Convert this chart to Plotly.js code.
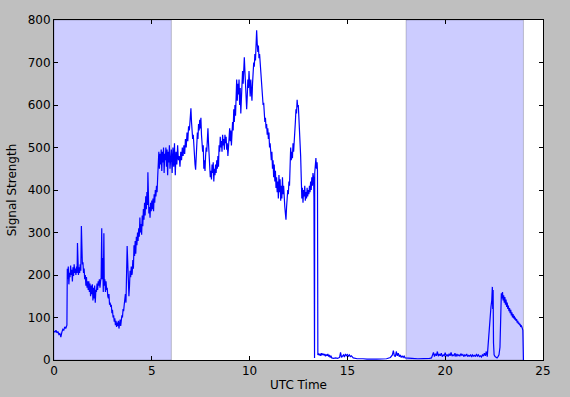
<!DOCTYPE html>
<html>
<head>
<meta charset="utf-8">
<script src="https://cdn.plot.ly/plotly-3.0.1.min.js"></script>
<style>html,body{margin:0;padding:0;background:#bfbfbf;}#chart{width:570px;height:397px;}</style>
</head>
<body>
<div id="chart"></div>
<script>
// UTC time (hours) of each sample
const hours = [
0,0.05,0.1,0.15,0.2,0.25,0.3,0.35,0.4,0.45,0.5,0.55,0.6,0.63,0.66,
0.68,0.7,0.73,0.76,0.79,0.82,0.85,0.88,0.91,0.94,0.97,1.0,1.03,1.06,1.09,1.12,1.15,1.18,1.2,1.22,1.25,1.28,1.31,1.34,1.37,1.4,1.42,1.45,1.48,
1.51,1.54,1.57,1.6,1.63,1.66,1.69,1.72,1.75,1.78,1.81,1.84,1.87,1.9,1.93,1.96,1.99,2.02,2.05,2.08,2.11,2.14,2.17,2.2,2.23,2.26,2.29,2.32,2.35,2.38,2.41,2.44,2.46,2.49,2.52,2.55,2.57,
2.6,2.63,2.66,2.69,2.72,2.75,2.78,2.81,2.84,2.87,2.9,2.93,2.96,2.99,3.02,3.05,3.08,3.11,3.14,3.17,3.2,3.23,3.26,3.29,3.32,3.35,3.38,3.41,3.44,3.47,3.5,3.53,3.56,
3.59,3.62,3.65,3.68,3.71,3.74,3.77,3.8,3.83,3.86,3.89,3.92,3.95,3.98,
4.0,4.03,4.06,4.09,4.12,4.15,4.18,4.21,4.24,4.27,4.3,4.33,4.36,4.39,4.42,4.45,4.48,4.51,4.54,4.57,4.6,4.63,4.66,4.69,4.72,4.75,4.78,4.8,4.82,
4.85,4.88,4.91,4.94,4.97,5.0,5.03,5.06,5.09,5.12,5.15,5.18,5.21,5.24,5.27,5.3,5.33,5.36,5.39,5.42,5.45,5.48,5.51,5.54,5.57,5.6,5.63,5.66,5.69,5.72,5.75,5.78,5.81,5.84,5.87,5.9,5.93,5.96,
6.0,6.04,6.08,6.12,6.16,6.2,6.24,6.28,6.32,6.36,6.4,6.44,6.48,6.52,6.56,6.6,6.64,6.68,6.72,6.76,6.8,6.84,6.88,6.92,6.96,7.0,7.03,7.06,7.09,7.12,7.15,7.18,7.21,7.24,7.27,7.3,7.33,7.36,7.39,7.42,7.45,7.48,7.51,7.54,7.57,7.6,7.63,7.66,7.69,7.72,7.75,7.78,7.81,7.84,7.87,7.9,7.93,7.96,7.99,
8.02,8.05,8.08,8.11,8.14,8.17,8.2,8.23,8.26,8.29,8.32,8.35,8.38,8.41,8.44,8.47,8.5,8.53,8.56,8.59,8.62,8.65,8.68,8.71,8.74,8.77,8.8,8.83,8.86,8.89,8.92,8.95,8.98,
9.01,9.04,9.07,9.1,9.13,9.16,9.19,9.22,9.25,9.28,9.31,9.34,9.37,9.4,9.43,9.46,9.49,9.52,9.55,9.58,9.61,9.64,9.67,9.7,9.73,9.76,9.79,9.82,9.85,9.88,9.91,9.94,9.97,
10.0,10.03,10.06,10.09,10.12,10.15,10.18,10.21,10.24,10.27,10.3,10.33,10.36,10.39,10.42,10.45,10.48,10.51,10.54,10.57,10.6,10.63,10.66,10.69,10.72,10.75,10.78,10.81,10.84,10.87,10.9,10.93,10.96,10.99,
11.02,11.05,11.08,11.11,11.14,11.17,11.2,11.23,11.26,11.29,11.32,11.35,11.38,11.41,11.44,11.47,11.5,11.53,11.56,11.59,11.62,11.65,11.68,11.71,11.74,11.77,11.8,11.83,11.86,11.89,11.92,11.95,11.98,
12.01,12.04,12.07,12.1,12.13,12.16,12.19,12.22,12.25,12.28,12.31,12.34,12.37,12.4,12.43,12.46,12.49,12.52,12.55,12.58,12.61,12.64,12.67,12.7,12.73,12.76,12.79,12.82,12.85,12.88,12.91,12.94,12.97,
13.0,13.03,13.06,13.09,13.12,13.15,13.18,13.21,13.24,13.27,13.29,13.3,13.32,13.33,13.36,13.39,13.42,13.45,13.47,13.49,
13.52,13.56,13.6,13.64,13.68,13.72,13.76,13.8,13.84,13.88,13.92,13.96,14.0,14.04,14.08,14.12,14.16,14.2,14.3,14.4,14.5,14.6,14.65,14.7,14.75,14.8,14.85,14.9,14.95,15.0,15.05,15.1,15.15,15.2,15.3,15.5,15.8,16.0,16.5,17.0,
17.2,17.3,17.35,17.4,17.45,17.5,17.55,17.6,17.65,17.7,17.75,17.8,17.85,17.9,17.95,18.0,18.3,18.6,19.0,19.2,19.3,
19.35,19.4,19.45,19.5,19.55,19.6,19.65,19.7,19.75,19.8,19.85,19.9,19.95,20.0,20.05,20.1,20.15,20.2,20.25,20.3,20.35,20.4,20.45,20.5,20.55,20.6,20.65,20.7,20.75,20.8,20.85,20.9,20.95,
21.0,21.05,21.1,21.15,21.2,21.25,21.3,21.35,21.4,21.45,21.5,21.55,21.6,21.65,21.7,21.75,21.8,21.85,21.9,21.95,22.0,22.05,22.1,22.15,
22.2,22.25,22.3,22.34,22.38,22.41,22.43,22.45,22.47,22.5,22.55,22.6,22.65,22.7,22.75,22.8,22.84,22.87,22.9,22.93,22.96,22.99,
23.02,23.05,23.08,23.11,23.14,23.17,23.2,23.23,23.26,23.29,23.32,23.35,23.38,23.41,23.44,23.47,23.5,23.53,23.56,23.59,23.62,23.65,23.68,23.71,23.74,23.77,23.8,23.83,23.86,23.9,23.94,23.97,24.0
];

// Signal strength of each sample
const signal = [
68,66,70,64,67,60,62,54,65,72,70,78,74,80,82,
215,190,220,178,205,195,222,200,212,185,218,198,225,205,215,200,220,205,275,210,200,218,205,225,210,315,240,225,230,
205,215,190,200,175,195,170,185,165,185,160,180,150,175,155,178,140,170,145,175,135,165,160,180,165,185,175,190,170,185,195,310,190,240,160,298,175,
190,160,185,165,170,150,145,155,130,135,125,130,110,118,100,105,90,98,82,92,78,88,80,92,74,85,95,80,98,105,100,120,115,
130,140,155,135,200,268,230,180,150,175,210,195,220,200,
205,235,215,270,245,280,250,290,270,300,280,310,290,335,300,320,295,340,315,355,330,370,340,385,355,395,365,442,370,
345,360,335,370,350,375,355,380,350,390,370,400,385,410,395,430,460,490,450,485,460,495,445,490,465,500,440,485,470,500,455,495,435,490,465,505,450,490,
495,440,500,455,510,435,490,460,505,470,480,455,490,470,500,480,505,485,520,500,535,515,550,540,575,592,560,545,520,530,490,475,460,448,480,510,535,520,555,540,565,545,570,530,515,490,505,450,470,445,480,500,490,520,545,510,485,455,430,
445,425,460,440,465,420,450,435,460,440,470,450,480,455,505,490,525,500,515,490,530,505,520,495,530,510,525,495,510,480,500,520,545,
515,540,505,530,560,540,590,560,600,575,630,660,610,650,625,660,600,640,580,620,665,680,650,700,712,680,640,600,590,620,660,640,680,
650,620,660,630,610,650,680,700,690,720,705,740,776,745,725,740,710,720,700,690,670,650,615,600,605,580,560,570,545,555,530,545,520,535,
500,510,480,470,490,450,470,430,460,420,445,405,430,395,420,380,435,395,425,375,410,380,430,390,410,370,360,345,330,360,380,400,390,
420,410,460,500,470,490,475,510,490,530,520,560,590,580,612,595,600,570,560,500,480,430,380,405,370,400,385,410,375,395,380,405,385,
400,390,410,395,420,400,430,410,440,430,380,5,5,440,465,475,450,465,445,12,
15,12,14,10,16,12,15,11,14,9,13,10,14,8,12,6,10,5,4,5,4,6,18,6,8,12,7,14,10,13,9,12,8,10,5,3,3,2,2,3,
6,12,22,10,8,20,10,16,8,12,6,10,6,9,5,5,4,3,3,4,5,
10,18,8,15,10,20,9,14,10,16,8,12,10,17,9,13,8,15,10,18,9,12,10,16,8,14,10,12,9,15,11,13,8,
12,10,14,8,11,9,13,7,12,9,11,8,14,9,12,8,10,7,12,9,16,10,20,8,
45,55,100,125,140,172,120,165,40,12,8,6,5,8,12,30,120,157,145,160,140,152,
135,148,130,142,125,135,120,128,115,122,110,118,105,112,100,108,98,104,95,100,92,96,88,92,85,88,82,85,78,80,75,70,0
];

// Shaded night-time spans (hours)
const spanStarts = [0, 18];
const spanEnds = [6, 24];

const xTicks = [0, 5, 10, 15, 20, 25];
const yTicks = [0, 100, 200, 300, 400, 500, 600, 700, 800];

const shapes = spanStarts.map((s, i) => ({
  type: 'rect', xref: 'x', yref: 'paper',
  x0: s, x1: spanEnds[i], y0: 0, y1: 1,
  fillcolor: 'rgba(0,0,255,0.2)',
  line: {color: 'rgba(0,0,0,0.2)', width: 1},
  layer: 'below'
}));

const trace = {
  x: hours, y: signal, type: 'scatter', mode: 'lines',
  line: {color: '#0000ff', width: 1.2},
  hoverinfo: 'skip'
};

const axisCommon = {
  showgrid: false, zeroline: false,
  showline: true, linecolor: '#000', linewidth: 1, mirror: 'ticks',
  ticks: 'inside', ticklen: 4, tickwidth: 1, tickcolor: '#000',
  tickfont: {family: 'DejaVu Sans', size: 12, color: '#000'}
};

const layout = {
  width: 570, height: 397,
  margin: {l: 54, r: 27, t: 20, b: 37, pad: 0},
  paper_bgcolor: '#bfbfbf', plot_bgcolor: '#ffffff',
  font: {family: 'DejaVu Sans', size: 12, color: '#000'},
  showlegend: false,
  shapes: shapes,
  xaxis: Object.assign({}, axisCommon, {
    range: [0, 25], tickvals: xTicks, ticktext: xTicks.map(String),
    title: {text: 'UTC Time', font: {family: 'DejaVu Sans', size: 12, color: '#000'}, standoff: 3}
  }),
  yaxis: Object.assign({}, axisCommon, {
    range: [0, 800], tickvals: yTicks, ticktext: yTicks.map(String),
    title: {text: 'Signal Strength', font: {family: 'DejaVu Sans', size: 12, color: '#000'}, standoff: 8}
  })
};

Plotly.newPlot('chart', [trace], layout, {displayModeBar: false, staticPlot: true});
</script>
</body>
</html>
